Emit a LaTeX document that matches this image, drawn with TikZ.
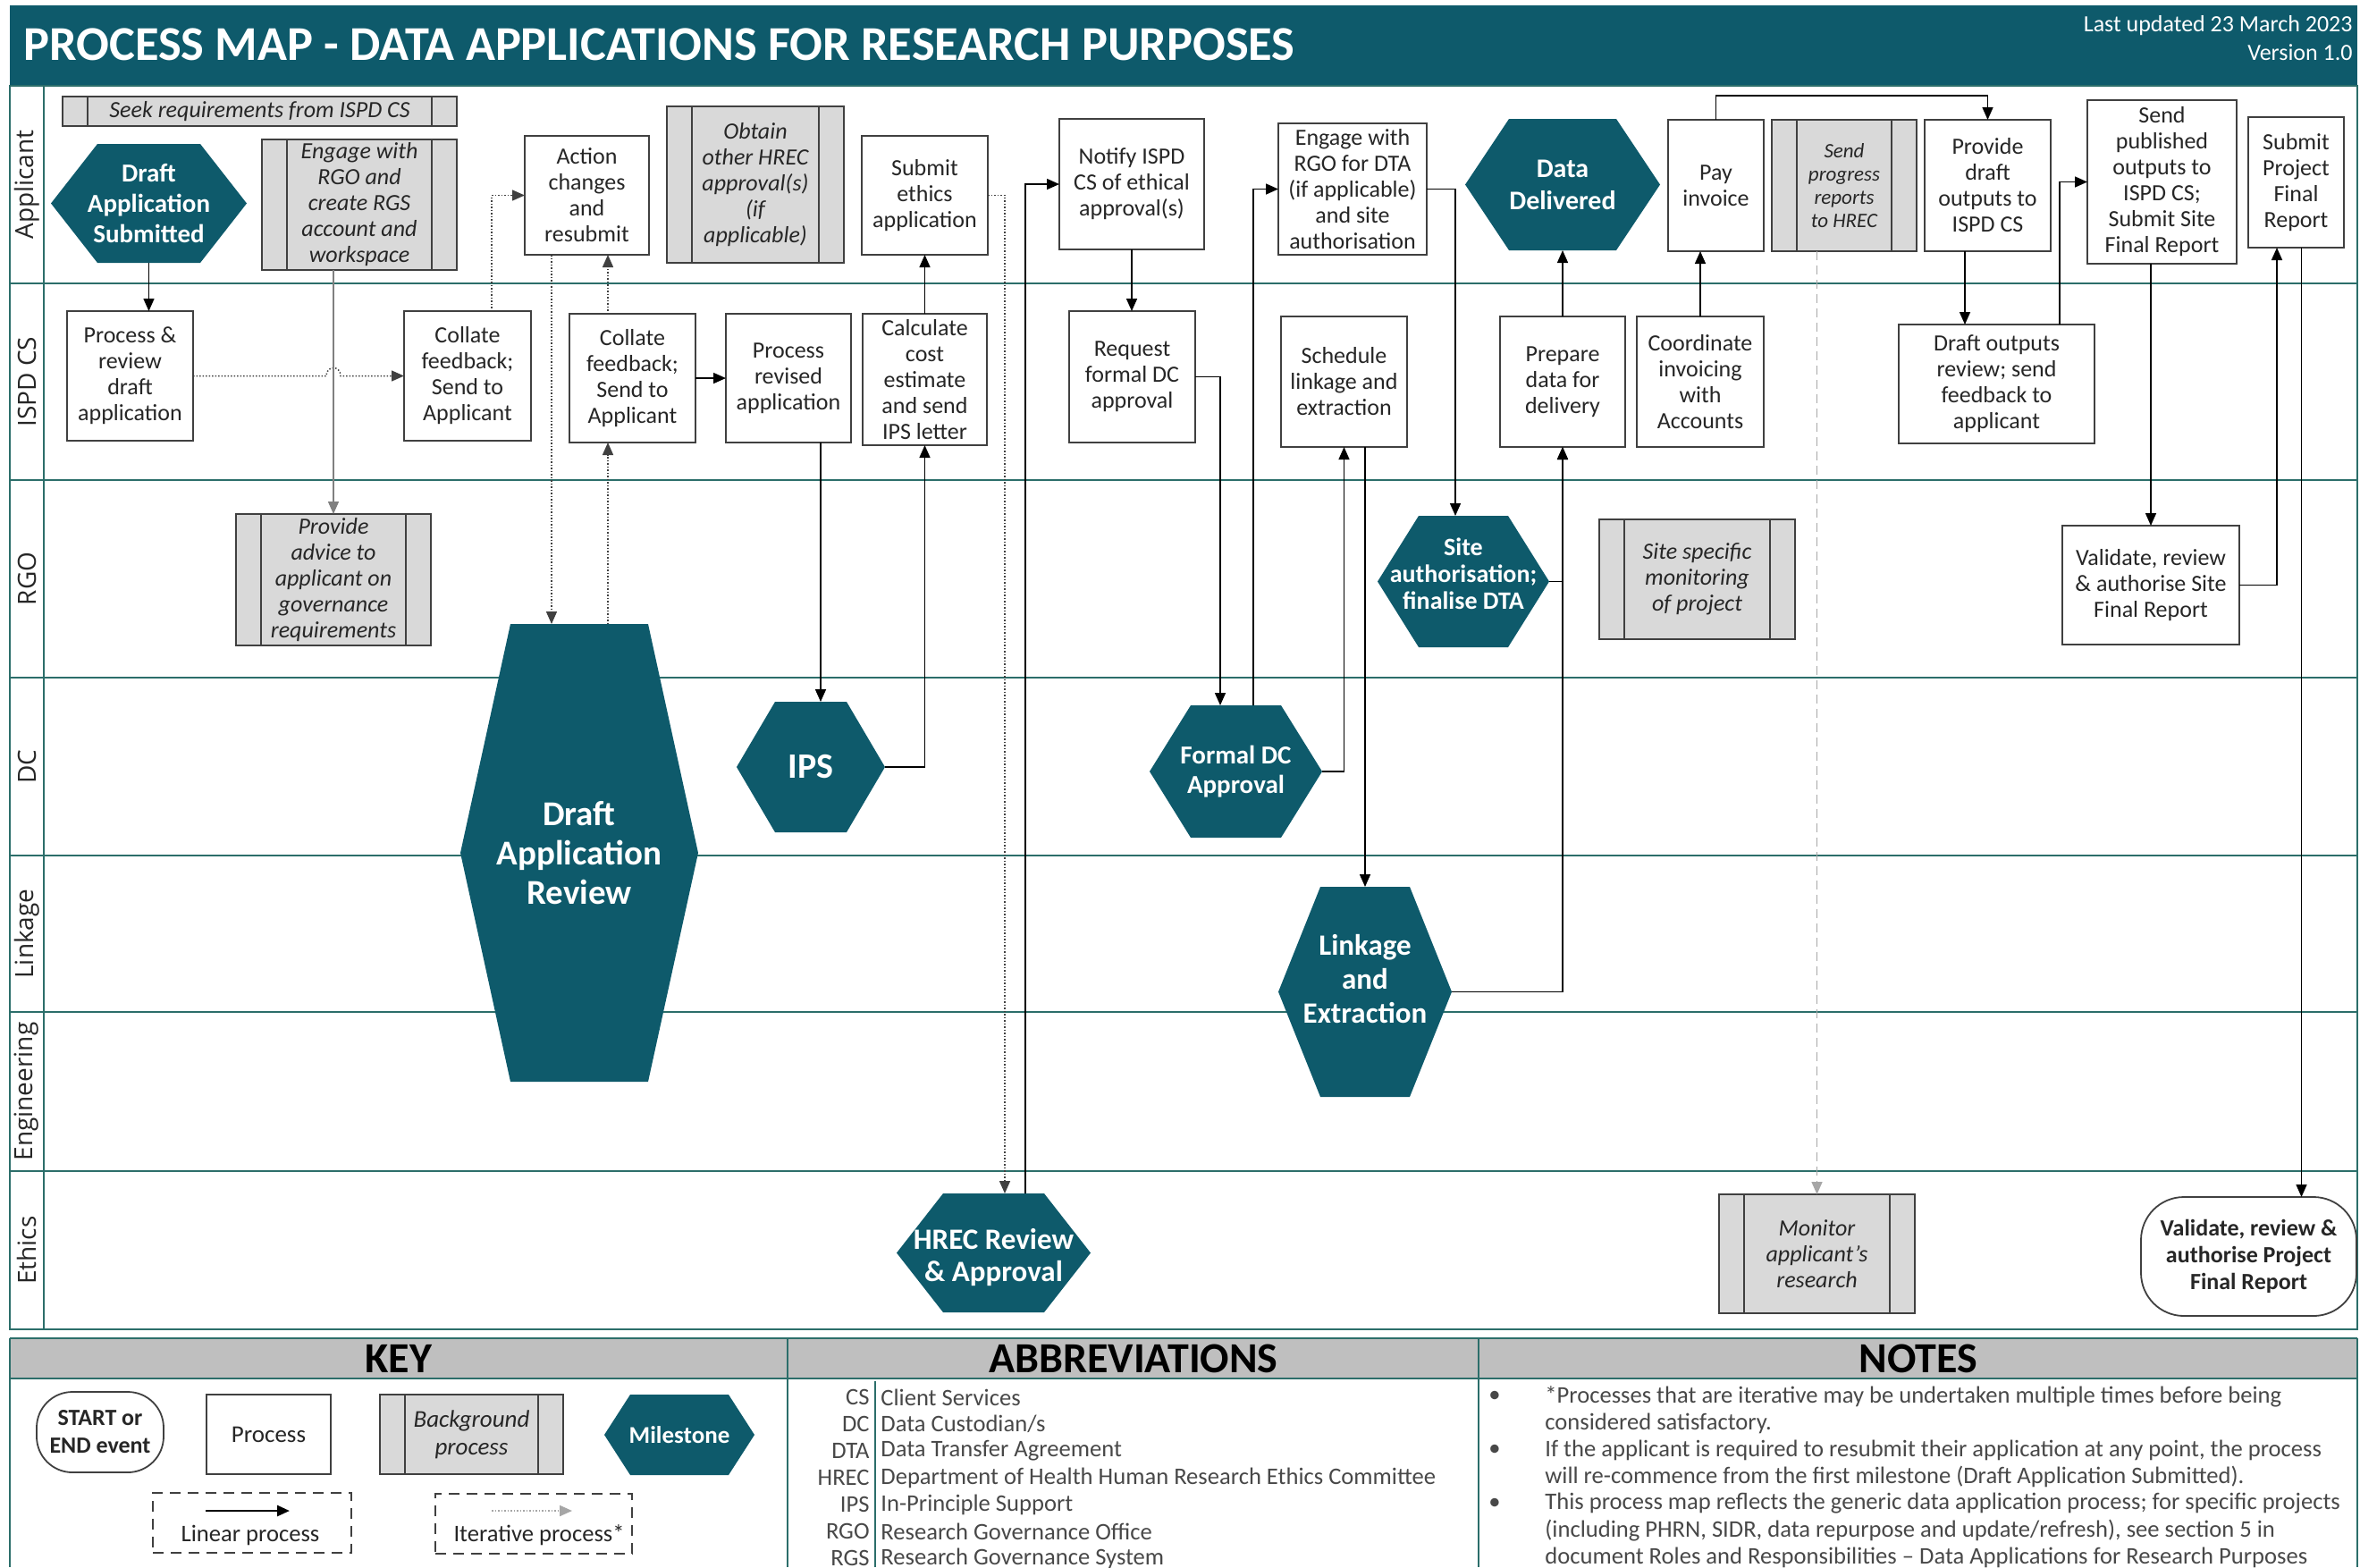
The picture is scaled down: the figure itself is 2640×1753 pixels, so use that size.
\documentclass[tikz,border=0pt]{standalone}
\usepackage{fontspec}
\setmainfont{Carlito}
\newfontfamily\lanefont{Open Sans}
\usetikzlibrary{arrows.meta,calc}
\definecolor{msteal}{RGB}{14,90,107}
\definecolor{laneline}{RGB}{44,110,106}
\definecolor{bggray}{RGB}{217,217,217}
\definecolor{keygray}{RGB}{191,191,191}
\definecolor{boxline}{RGB}{64,64,64}
\definecolor{txt}{RGB}{38,38,38}
\definecolor{notetxt}{RGB}{72,72,72}
\newcommand{\fs}[2]{\fontsize{#1}{#2}\selectfont}
\newcommand{\upstack}[2]{\raisebox{#1}[0pt][0pt]{\begin{tabular}{@{}c@{}}#2\end{tabular}}}
\tikzset{
  sz/.style 2 args={minimum width=#1*0.5pt, minimum height=#2*0.5pt},
  proc/.style={draw=boxline, line width=0.9pt, fill=white, align=center, inner sep=0pt, outer sep=0pt, text=txt, font=\fs{13}{14.5}},
  bgproc/.style={proc, fill=bggray, font=\fs{13}{14.5}\itshape, path picture={
      \draw[boxline, line width=0.9pt] ([xshift=14pt]path picture bounding box.north west) -- ([xshift=14pt]path picture bounding box.south west);
      \draw[boxline, line width=0.9pt] ([xshift=-14pt]path picture bounding box.north east) -- ([xshift=-14pt]path picture bounding box.south east);}},
  hexa/.style={align=center, inner sep=0pt, outer sep=0pt, text=white, path picture={
      \fill[msteal] (path picture bounding box.west) -- ([xshift=#1]path picture bounding box.north west) -- ([xshift=-#1]path picture bounding box.north east) -- (path picture bounding box.east) -- ([xshift=-#1]path picture bounding box.south east) -- ([xshift=#1]path picture bounding box.south west) -- cycle;}},
  lane/.style={draw=laneline, line width=1.4pt},
  lanelab/.style={rotate=90, font=\lanefont\fs{14}{16}, text=txt},
  arr/.style={draw=black, line width=0.75pt, -{Triangle[length=7pt,width=6pt]}},
  itarr/.style={arr, draw=black!75, densely dotted},
  garr/.style={arr, draw=gray},
  gdash/.style={arr, draw=gray!70, dash pattern=on 5pt off 3pt},
  keydash/.style={draw=boxline, line width=1pt, dash pattern=on 6pt off 4pt, inner sep=0pt},
  keyhead/.style={font=\fs{24}{26}\bfseries, text=black, inner sep=0pt},
  abbr/.style={font=\fs{13.3}{15}, text=notetxt, inner sep=0pt},
}
\begin{document}
\begin{tikzpicture}[x=0.5pt,y=-0.5pt]
\useasboundingbox (0,0) rectangle (2640,1753);
% ---------- header ----------
\fill[msteal] (11,6) rectangle (2637,96);
\node[anchor=west, text=white, font=\fs{27.2}{30}\bfseries, inner sep=0pt] (title) at (26,50) {PROCESS MAP - DATA APPLICATIONS FOR RESEARCH PURPOSES};
\node[anchor=east, text=white, font=\fs{13}{15}, inner sep=0pt] (upd) at (2632,29) {Last updated 23 March 2023};
\node[anchor=east, text=white, font=\fs{13}{15}, inner sep=0pt] (ver) at (2632,59) {Version 1.0};
% ---------- lanes ----------
\foreach \yy in {317,537,758,957,1132,1310} \draw[lane] (11,\yy) -- (2637,\yy);
\draw[lane] (11,96) rectangle (2637,1487);
\draw[lane] (49,96) -- (49,1487);
\node[lanelab] (lApp) at (30,206.5) {Applicant};
\node[lanelab] (lCS) at (30,427) {ISPD CS};
\node[lanelab] (lRGO) at (30,647.5) {RGO};
\node[lanelab] (lDC) at (30,857.5) {DC};
\node[lanelab] (lLink) at (30,1044.5) {Linkage};
\node[lanelab] (lEng) at (30,1221) {Engineering};
\node[lanelab] (lEth) at (30,1398.5) {Ethics};
% ---------- Applicant lane ----------
\node[bgproc, sz={441}{33}] (seek) at (290.5,124.5) {Seek requirements from ISPD CS};
\node[hexa=26pt, sz={219}{133}, font=\fs{14.5}{17}\bfseries] (das) at (166.5,227.5) {Draft\\Application\\Submitted};
\node[bgproc, sz={218}{146}] (engage) at (402,229) {Engage with\\RGO and\\create RGS\\account and\\workspace};
\node[proc, sz={139}{133}] (action) at (656.5,218.5) {Action\\changes\\and\\resubmit};
\node[bgproc, sz={198}{175}] (obtain) at (845,206.5) {Obtain\\other HREC\\approval(s)\\(if\\applicable)};
\node[proc, sz={141}{133}] (submitE) at (1034.5,218.5) {Submit\\ethics\\application};
\node[proc, sz={162}{146}] (notify) at (1266,206) {Notify ISPD\\CS of ethical\\approval(s)};
\node[proc, sz={166}{147}] (engdta) at (1513,211.5) {Engage with\\RGO for DTA\\(if applicable)\\and site\\authorisation};
\node[hexa=24.5pt, sz={218}{147}, font=\fs{15}{18}\bfseries] (dd) at (1748,206.5) {Data\\Delivered};
\node[proc, sz={107}{147}] (pay) at (1919.5,207.5) {Pay\\invoice};
\node[bgproc, sz={162}{147}, font=\fs{11.5}{13}\itshape] (progress) at (2063,207.5) {Send\\progress\\reports\\to HREC};
\node[proc, sz={141}{147}] (provide) at (2223.5,207.5) {Provide\\draft\\outputs to\\ISPD CS};
\node[proc, sz={167}{183}] (sendpub) at (2418.5,203.5) {Send\\published\\outputs to\\ISPD CS;\\Submit Site\\Final Report};
\node[proc, sz={107}{146}] (submitP) at (2568.5,204) {Submit\\Project\\Final\\Report};
% ---------- ISPD CS lane ----------
\node[proc, sz={141}{145}] (review) at (145.5,420.5) {Process \&\\review\\draft\\application};
\node[proc, sz={142}{145}] (coll1) at (523,420.5) {Collate\\feedback;\\Send to\\Applicant};
\node[proc, sz={141}{144}] (coll2) at (707.5,423) {Collate\\feedback;\\Send to\\Applicant};
\node[proc, sz={140}{144}] (procrev) at (882,423) {Process\\revised\\application};
\node[proc, sz={139}{147}] (cost) at (1034.5,424.5) {Calculate\\cost\\estimate\\and send\\IPS letter};
\node[proc, sz={141}{147}] (reqdc) at (1266.5,421.5) {Request\\formal DC\\approval};
\node[proc, sz={141}{146}] (sched) at (1503.5,427) {Schedule\\linkage and\\extraction};
\node[proc, sz={140}{146}] (prep) at (1748,427) {Prepare\\data for\\delivery};
\node[proc, sz={142}{146}] (coord) at (1902,427) {Coordinate\\invoicing\\with\\Accounts};
\node[proc, sz={219}{133}] (draftout) at (2233.5,429.5) {Draft outputs\\review; send\\feedback to\\applicant};
% ---------- RGO lane ----------
\node[bgproc, sz={218}{147}] (advice) at (373,648.5) {Provide\\advice to\\applicant on\\governance\\requirements};
\node[hexa=23pt, sz={192}{147}, font=\fs{14}{15}\bfseries] (siteauth) at (1637,650.5) {\upstack{-1pt}{Site\\authorisation;\\finalise DTA}};
\node[bgproc, sz={219}{134}] (sitemon) at (1898.5,648) {Site specific\\monitoring\\of project};
\node[proc, sz={198}{133}] (valsite) at (2406,654.5) {Validate, review\\\& authorise Site\\Final Report};
% ---------- DC / Linkage / Ethics ----------
\node[hexa=28pt, sz={266}{512}, font=\fs{19.5}{22}\bfseries] (dar) at (648,954) {Draft\\Application\\Review};
\node[hexa=21.5pt, sz={166}{146}, font=\fs{20}{22}\bfseries] (ips) at (907,858) {IPS};
\node[hexa=23pt, sz={193}{148}, font=\fs{14.5}{16.5}\bfseries] (formal) at (1382.5,863) {Formal DC\\Approval};
\node[hexa=23.5pt, sz={194}{235}, font=\fs{16.5}{19}\bfseries] (link) at (1527,1109.5) {\upstack{1pt}{Linkage\\and\\Extraction}};
\node[hexa=26pt, sz={217}{133}, font=\fs{16.5}{18}\bfseries] (hrec) at (1111.5,1401.5) {\upstack{-7.5pt}{HREC Review\\\& Approval}};
\node[bgproc, sz={219}{133}] (monitor) at (2032.5,1402.5) {Monitor\\applicant’s\\research};
\node[proc, sz={241}{133}, rounded corners=24pt, font=\fs{13}{15}\bfseries] (valproj) at (2515.5,1405.5) {Validate, review \&\\authorise Project\\Final Report};
% ---------- offset points on node borders ----------
\coordinate (hopc) at (advice.north |- review.east);
\coordinate (c1n) at ($(coll1.north)+(27,0)$);
\coordinate (acs) at ($(action.south)+(-39.5,0)$);
\coordinate (c2n) at ($(coll2.north)+(-27.5,0)$);
\coordinate (c2s) at ($(coll2.south)+(-27.5,0)$);
\coordinate (prs) at ($(procrev.south)+(36,0)$);
\coordinate (hrin) at ($(hrec.north)+(12.5,0)$);
\coordinate (hrout) at ($(hrec.north)+(35.5,0)$);
\coordinate (fdin) at ($(formal.north)+(-17.5,0)$);
\coordinate (fdout) at ($(formal.north)+(19.5,0)$);
\coordinate (sain) at ($(siteauth.north)+(-9,0)$);
\coordinate (pvs) at ($(provide.south)+(-25.5,0)$);
\coordinate (don) at ($(draftout.north)+(70.5,0)$);
\coordinate (spin) at ($(submitP.south)+(-21.5,0)$);
\coordinate (spout) at ($(submitP.south)+(6,0)$);
\coordinate (payup) at ($(pay.north)+(0,-27)$);
% ---------- connectors ----------
\draw[arr] (das.south) -- (das.south |- review.north);
\draw[itarr] (review.east) -- ($(hopc)+(-8,0)$) .. controls ($(hopc)+(-8,-12)$) and ($(hopc)+(8,-12)$) .. ($(hopc)+(8,0)$) -- (coll1.west);
\draw[garr] (advice.north |- engage.south) -- (advice.north);
\draw[itarr] (c1n) |- (action.west);
\draw[itarr] (acs) -- (acs |- dar.north);
\draw[itarr] (c2n) -- (c2n |- action.south);
\draw[itarr] (c2s |- dar.north) -- (c2s);
\draw[arr] (coll2.east) -- (procrev.west);
\draw[arr] (prs) -- (prs |- ips.north);
\draw[arr] (ips.east) -| (cost.south);
\draw[arr] (cost.north) -- (submitE.south);
\draw[itarr] (submitE.east) -| (hrin);
\draw[arr] (hrout) |- (notify.west);
\draw[arr] (notify.south) -- (notify.south |- reqdc.north);
\draw[arr] (reqdc.east) -| (fdin);
\draw[arr] (fdout) |- (engdta.west);
\draw[arr] (formal.east) -| (sched.south);
\draw[arr] (link.north |- sched.south) -- (link.north);
\draw[arr] (engdta.east) -| (sain);
\draw[arr] (siteauth.east) -| (prep.south);
\draw[arr] (link.east) -| (prep.south);
\draw[arr] (prep.north) -- (dd.south);
\draw[arr] (coord.north) -- (coord.north |- pay.south);
\draw[arr] (pay.north) -- (payup) -| (provide.north);
\draw[arr] (pvs) -- (pvs |- draftout.north);
\draw[arr] (don) |- (sendpub.west);
\draw[arr] (valsite.north |- sendpub.south) -- (valsite.north);
\draw[arr] (valsite.east) -| (spin);
\draw[arr] (spout) -- (spout |- valproj.north);
\draw[gdash] (monitor.north |- progress.south) -- (monitor.north);
% ---------- bottom panel ----------
\fill[keygray] (11,1497) rectangle (2637,1542);
\draw[lane] (11,1497) -- (2637,1497);
\draw[lane] (11,1542) -- (2637,1542);
\draw[lane] (11,1497) -- (11,1753);
\draw[lane] (881,1497) -- (881,1753);
\draw[lane] (1654,1497) -- (1654,1753);
\draw[lane] (2637,1497) -- (2637,1753);
\draw[draw=laneline, line width=0.7pt] (979,1545) -- (979,1753);
\node[keyhead] (hkey) at (446,1520) {KEY};
\node[keyhead] (habbr) at (1268,1520) {ABBREVIATIONS};
\node[keyhead] (hnotes) at (2146,1520) {NOTES};
% key
\node[proc, sz={142}{90}, rounded corners=20pt, font=\fs{13}{15.5}\bfseries] (kse) at (112,1602) {START or\\END event};
\node[proc, sz={139}{89}, font=\fs{13.5}{15}] (kproc) at (300.5,1604.5) {Process};
\node[bgproc, sz={205}{89}, font=\fs{13.5}{15.5}\itshape] (kbg) at (527.5,1604.5) {Background\\process};
\node[hexa=14.5pt, sz={168}{90}, font=\fs{13.5}{15}\bfseries] (kms) at (760,1605) {Milestone};
\node[keydash, sz={222}{67}] (klin) at (282,1703.5) {};
\node[keydash, sz={220}{67}] (kit) at (597,1704.5) {};
\node[font=\fs{13.3}{14}, text=txt, inner sep=0pt] (klint) at (280,1717) {Linear process};
\node[font=\fs{13.3}{14}, text=txt, inner sep=0pt] (kitt) at (603,1717) {Iterative process*};
\coordinate (kla) at (230,1690);
\coordinate (klb) at (324,1690);
\coordinate (kia) at (550,1690);
\coordinate (kib) at (640,1690);
\draw[arr, line width=1.3pt] (kla) -- (klb);
\draw[itarr, draw=gray!70, line width=1pt] (kia) -- (kib);
% abbreviations
\node[abbr, anchor=east] (a1) at (973,1563) {CS};
\node[abbr, anchor=east] (a2) at (973,1593) {DC};
\node[abbr, anchor=east] (a3) at (973,1623) {DTA};
\node[abbr, anchor=east] (a4) at (973,1653) {HREC};
\node[abbr, anchor=east] (a5) at (973,1683) {IPS};
\node[abbr, anchor=east] (a6) at (973,1713) {RGO};
\node[abbr, anchor=east] (a7) at (973,1743) {RGS};
\node[abbr, anchor=west] (d1) at (985,1563) {Client Services};
\node[abbr, anchor=west] (d2) at (985,1593) {Data Custodian/s};
\node[abbr, anchor=west] (d3) at (985,1623) {Data Transfer Agreement};
\node[abbr, anchor=west] (d4) at (985,1653) {Department of Health Human Research Ethics Committee};
\node[abbr, anchor=west] (d5) at (985,1683) {In-Principle Support};
\node[abbr, anchor=west] (d6) at (985,1713) {Research Governance Office};
\node[abbr, anchor=west] (d7) at (985,1743) {Research Governance System};
% notes
\node[abbr] (b1) at (1672,1562) {•};
\node[abbr] (b2) at (1672,1622) {•};
\node[abbr] (b3) at (1672,1682) {•};
\node[abbr, anchor=west] (n1) at (1728,1562) {*Processes that are iterative may be undertaken multiple times before being};
\node[abbr, anchor=west] (n2) at (1728,1592) {considered satisfactory.};
\node[abbr, anchor=west] (n3) at (1728,1622) {If the applicant is required to resubmit their application at any point, the process};
\node[abbr, anchor=west] (n4) at (1728,1652) {will re-commence from the first milestone (Draft Application Submitted).};
\node[abbr, anchor=west] (n5) at (1728,1682) {This process map reflects the generic data application process; for specific projects};
\node[abbr, anchor=west] (n6) at (1728,1712) {(including PHRN, SIDR, data repurpose and update/refresh), see section 5 in};
\node[abbr, anchor=west] (n7) at (1728,1742) {document Roles and Responsibilities – Data Applications for Research Purposes};
\end{tikzpicture}
\end{document}
